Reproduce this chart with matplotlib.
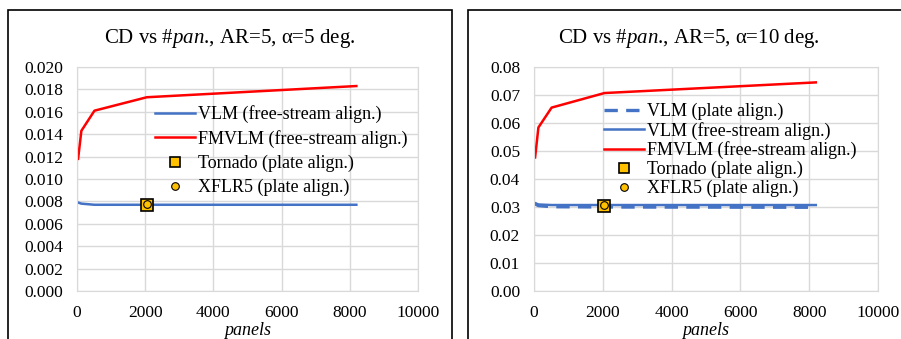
import matplotlib.pyplot as plt
from matplotlib.patches import Rectangle

plt.rcParams['font.family'] = ['Liberation Serif', 'DejaVu Serif']
plt.rcParams['mathtext.fontset'] = 'custom'
plt.rcParams['mathtext.rm'] = 'Liberation Serif'
plt.rcParams['mathtext.it'] = 'Liberation Serif:italic'

panels = [32, 128, 512, 2048, 8192]

# alpha = 5 deg
vlm_fs_5 = [0.0079, 0.0078, 0.0077, 0.0077, 0.0077]
fmvlm_fs_5 = [0.0118, 0.0143, 0.0161, 0.0173, 0.0183]
tornado_5 = 0.0077
xflr5_5 = 0.0078

# alpha = 10 deg
vlm_plate_10 = [0.0311, 0.0305, 0.0301, 0.0300, 0.0299]
vlm_fs_10 = [0.0314, 0.0309, 0.0307, 0.0307, 0.0307]
fmvlm_fs_10 = [0.0477, 0.0584, 0.0655, 0.0707, 0.0745]
tornado_10 = 0.0305
xflr5_10 = 0.0307
marker_x = 2048

BLUE = "#4472C4"
RED = "#FF0000"
GOLD = "#FFC000"
GRID = "#D9D9D9"

fig = plt.figure(figsize=(9.01, 3.39), dpi=100)

# chart borders
fig.patches.append(Rectangle((8 / 901, -0.1), 444 / 901, 1.1 - 10 / 339,
                             transform=fig.transFigure, fill=False,
                             edgecolor="black", linewidth=1.2))
fig.patches.append(Rectangle((468 / 901, -0.1), 0.6, 1.1 - 10 / 339,
                             transform=fig.transFigure, fill=False,
                             edgecolor="black", linewidth=1.2))

ax1 = fig.add_axes([77 / 901, 48 / 339, 341 / 901, 224 / 339])
ax2 = fig.add_axes([534 / 901, 48 / 339, 344 / 901, 224 / 339])


def style(ax, ymax, ystep, fmt):
    ax.set_xlim(0, 10000)
    ax.set_ylim(0, ymax)
    ax.set_xticks(range(0, 10001, 2000))
    n = int(round(ymax / ystep))
    ax.set_yticks([i * ystep for i in range(n + 1)])
    ax.set_yticklabels([fmt.format(i * ystep) for i in range(n + 1)])
    ax.grid(True, color=GRID, linewidth=1)
    ax.set_axisbelow(True)
    for s in ax.spines.values():
        s.set_color(GRID)
    ax.tick_params(length=0, labelsize=12.5, pad=10)
    ax.set_xlabel("panels", style="italic", fontsize=13, labelpad=1)


style(ax1, 0.020, 0.002, "{:.3f}")
style(ax2, 0.08, 0.01, "{:.2f}")

# left chart
ax1.plot(panels, vlm_fs_5, color=BLUE, lw=1.8, label="VLM (free-stream align.)")
ax1.plot(panels, fmvlm_fs_5, color=RED, lw=1.8, label="FMVLM (free-stream align.)")
ax1.plot([marker_x], [tornado_5], ls="none", marker="s", ms=9, mfc=GOLD,
         mec="black", mew=1.2, label="Tornado (plate align.)")
ax1.plot([marker_x], [xflr5_5], ls="none", marker="o", ms=5.5, mfc=GOLD,
         mec="black", mew=0.8, label="XFLR5 (plate align.)")
leg1 = ax1.legend(loc="upper left", bbox_to_anchor=(0.229, 0.83), frameon=False,
                  fontsize=13, handlelength=2.2, handletextpad=0.2,
                  labelspacing=0.38, borderpad=0, borderaxespad=0)
for h in leg1.legend_handles:
    if h.get_marker() == "s":
        h.set_markersize(6.5)
    elif h.get_marker() == "o":
        h.set_markersize(5.5)

# right chart
ax2.plot(panels, vlm_plate_10, color=BLUE, lw=2.4, ls=(0, (4, 2.5)),
         label="VLM (plate align.)")
ax2.plot(panels, vlm_fs_10, color=BLUE, lw=1.8, label="VLM (free-stream align.)")
ax2.plot(panels, fmvlm_fs_10, color=RED, lw=1.8, label="FMVLM (free-stream align.)")
ax2.plot([marker_x], [tornado_10], ls="none", marker="s", ms=9, mfc=GOLD,
         mec="black", mew=1.2, label="Tornado (plate align.)")
ax2.plot([marker_x], [xflr5_10], ls="none", marker="o", ms=5.5, mfc=GOLD,
         mec="black", mew=0.8, label="XFLR5 (plate align.)")
leg2 = ax2.legend(loc="upper left", bbox_to_anchor=(0.2035, 0.84), frameon=False,
                  fontsize=13, handlelength=2.2, handletextpad=0.2,
                  labelspacing=0.09, borderpad=0, borderaxespad=0)
for h in leg2.legend_handles:
    if h.get_marker() == "s":
        h.set_markersize(6.5)
    elif h.get_marker() == "o":
        h.set_markersize(5.5)

fig.text(230 / 901, 1 - 38 / 339, "CD vs #$\\mathit{pan}$., AR=5, α=5 deg.",
         ha="center", va="center", fontsize=15)
fig.text(689 / 901, 1 - 38 / 339, "CD vs #$\\mathit{pan}$., AR=5, α=10 deg.",
         ha="center", va="center", fontsize=15)

fig.savefig("out.png", dpi=100)
